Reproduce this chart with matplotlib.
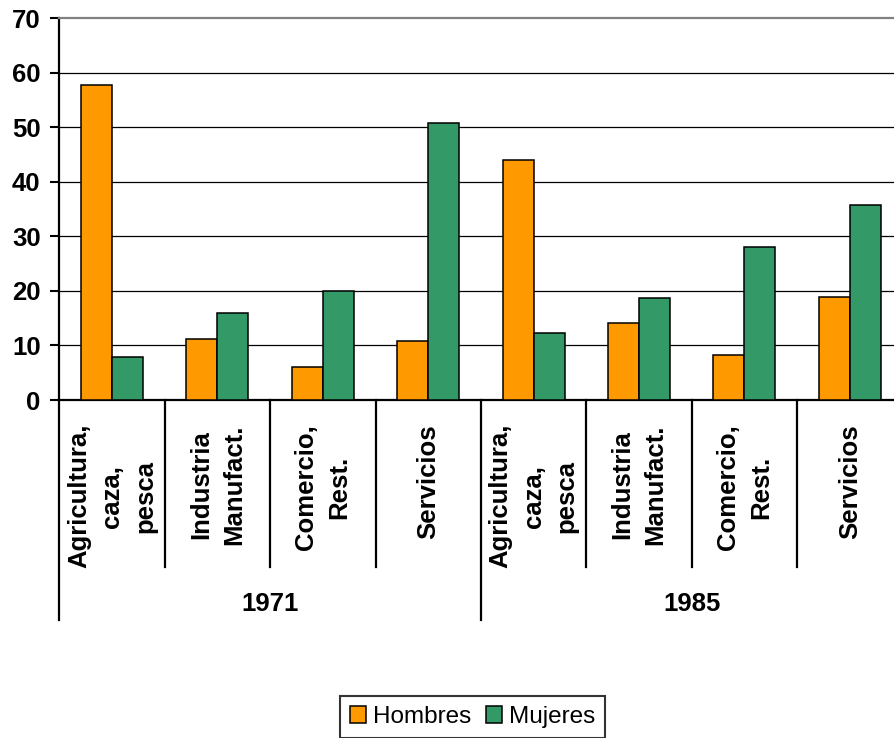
import numpy as np
import matplotlib
matplotlib.use('Agg')
from matplotlib import pyplot as plt
from matplotlib.patches import Patch

plt.rcParams['font.family'] = ['Liberation Sans', 'DejaVu Sans']

# data
years = ['1971', '1985']
sectors = ['Agricultura,\ncaza,\npesca', 'Industria\nManufact.', 'Comercio,\nRest.', 'Servicios']
hombres = [57.8, 11.2, 6.1, 10.9, 43.9, 14.2, 8.3, 18.9]
mujeres = [7.9, 16.0, 20.0, 50.8, 12.3, 18.6, 28.1, 35.8]
yticks = [0, 10, 20, 30, 40, 50, 60, 70]

orange = '#FF9900'
green = '#339966'

fig = plt.figure(figsize=(8.95, 7.38), dpi=100)
# plot area runs a little past the right edge of the picture, as in the reference
ax = fig.add_axes([59.3 / 895, 338 / 738, 843.2 / 895, 382 / 738])

labels = sectors * len(years)
x = np.arange(len(labels))
w = 0.295
ax.bar(x - w / 2, hombres, w, color=orange, edgecolor='black', linewidth=1.1, zorder=3)
ax.bar(x + w / 2, mujeres, w, color=green, edgecolor='black', linewidth=1.1, zorder=3)

ax.set_xlim(-0.5, len(labels) - 0.5)
ax.set_ylim(0, 70)
ax.set_yticks(yticks)
ax.set_yticklabels([str(v) for v in yticks], fontsize=18.5, fontweight='bold')
ax.tick_params(axis='y', direction='out', length=6.5, width=1.5, pad=7)
ax.set_xticks([])
for v in yticks[1:-1]:
    ax.axhline(v, color='black', linewidth=0.9, zorder=1)

ax.spines['right'].set_visible(False)
ax.spines['top'].set_color('#808080')
ax.spines['top'].set_linewidth(1.6)
ax.spines['left'].set_linewidth(1.6)
ax.spines['bottom'].set_linewidth(1.6)

# category labels and separators under the axis
trans = ax.get_xaxis_transform()
for i, lab in enumerate(labels):
    ax.text(i, -0.063, lab, transform=trans, rotation=90, ha='center', va='top',
            multialignment='center', fontsize=18.5, fontweight='bold', linespacing=1.48)
for i in range(len(labels) + 1):
    low = -0.576 if i % len(sectors) == 0 else -0.437
    ax.plot([i - 0.5, i - 0.5], [0, low], transform=trans, color='black',
            linewidth=1.6, clip_on=False)
for j, yr in enumerate(years):
    mid = j * len(sectors) + (len(sectors) - 1) / 2
    ax.text(mid, -0.534, yr, transform=trans, ha='center', va='center',
            fontsize=18.5, fontweight='bold')

handles = [Patch(facecolor=orange, edgecolor='black', linewidth=1.1),
           Patch(facecolor=green, edgecolor='black', linewidth=1.1)]
leg = fig.legend(handles, ['Hombres', 'Mujeres'], loc='center',
                 bbox_to_anchor=(472.5 / 895, 1 - 717 / 738), ncol=2, fontsize=17.5,
                 frameon=True, fancybox=False, handlelength=0.65, handleheight=0.65,
                 handletextpad=0.3, columnspacing=0.6, borderpad=0.4)
leg.get_frame().set_edgecolor('black')
leg.get_frame().set_linewidth(1.5)

fig.savefig('out.png', dpi=100)
